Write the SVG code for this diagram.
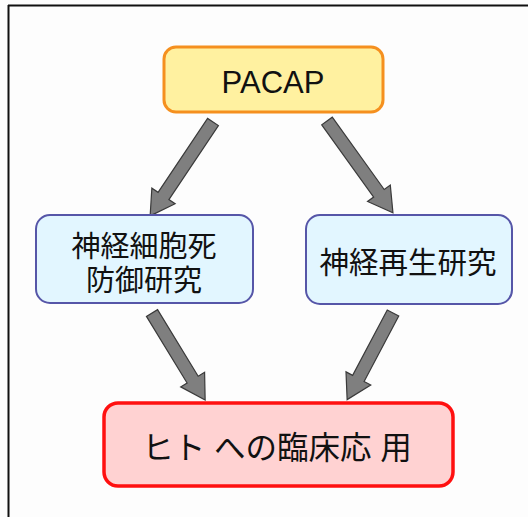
<svg xmlns="http://www.w3.org/2000/svg" width="528" height="517" viewBox="0 0 528 517">
<style>
.t{font-family:"Liberation Sans","Noto Sans CJK JP",sans-serif;fill:#111;text-anchor:middle}
.arr{fill:#7f7f7f;stroke:#3a3a3a;stroke-width:1.2;stroke-linejoin:miter}
</style>
<rect x="0" y="0" width="528" height="517" fill="#fdfdfd"/>
<line x1="8.5" y1="5" x2="8.5" y2="517" stroke="#111" stroke-width="2"/>
<line x1="8" y1="5.5" x2="528" y2="5.5" stroke="#111" stroke-width="2"/>
<g id="connectors">
<g transform="translate(213,122) rotate(123.8)"><polygon class="arr" points="0,-6.5 89,-6.5 89,-14 113,0 89,14 89,6.5 0,6.5"/></g>
<g transform="translate(327,121) rotate(54.3)"><polygon class="arr" points="0,-6.5 89,-6.5 89,-14 113,0 89,14 89,6.5 0,6.5"/></g>
<g transform="translate(152,313) rotate(58.6)"><polygon class="arr" points="0,-6.5 78,-6.5 78,-14 102,0 78,14 78,6.5 0,6.5"/></g>
<g transform="translate(393,313) rotate(117.9)"><polygon class="arr" points="0,-6.5 74,-6.5 74,-14 98,0 74,14 74,6.5 0,6.5"/></g>
</g>
<g id="pacap">
<rect x="164" y="47" width="219" height="65" rx="12" fill="#fff1a0" stroke="#f5901f" stroke-width="3"/>
<text class="t" x="273" y="93" font-size="31">PACAP</text>
</g>
<g id="defense">
<rect x="36" y="215" width="217" height="88" rx="14" fill="#e2f6ff" stroke="#5656a8" stroke-width="2"/>
<text class="t" x="144" y="257" font-size="29">神経細胞死</text>
<text class="t" x="144" y="291" font-size="29">防御研究</text>
</g>
<g id="regen">
<rect x="306" y="215" width="206" height="89" rx="14" fill="#e2f6ff" stroke="#5656a8" stroke-width="2"/>
<text class="t" x="408" y="273" font-size="29.5">神経再生研究</text>
</g>
<g id="clinical">
<rect x="104" y="403" width="349" height="83" rx="14" fill="#ffd2d2" stroke="#ff1010" stroke-width="3.5"/>
<text class="t" x="277" y="459" font-size="31.5">ヒト への臨床応 用</text>
</g>
</svg>
